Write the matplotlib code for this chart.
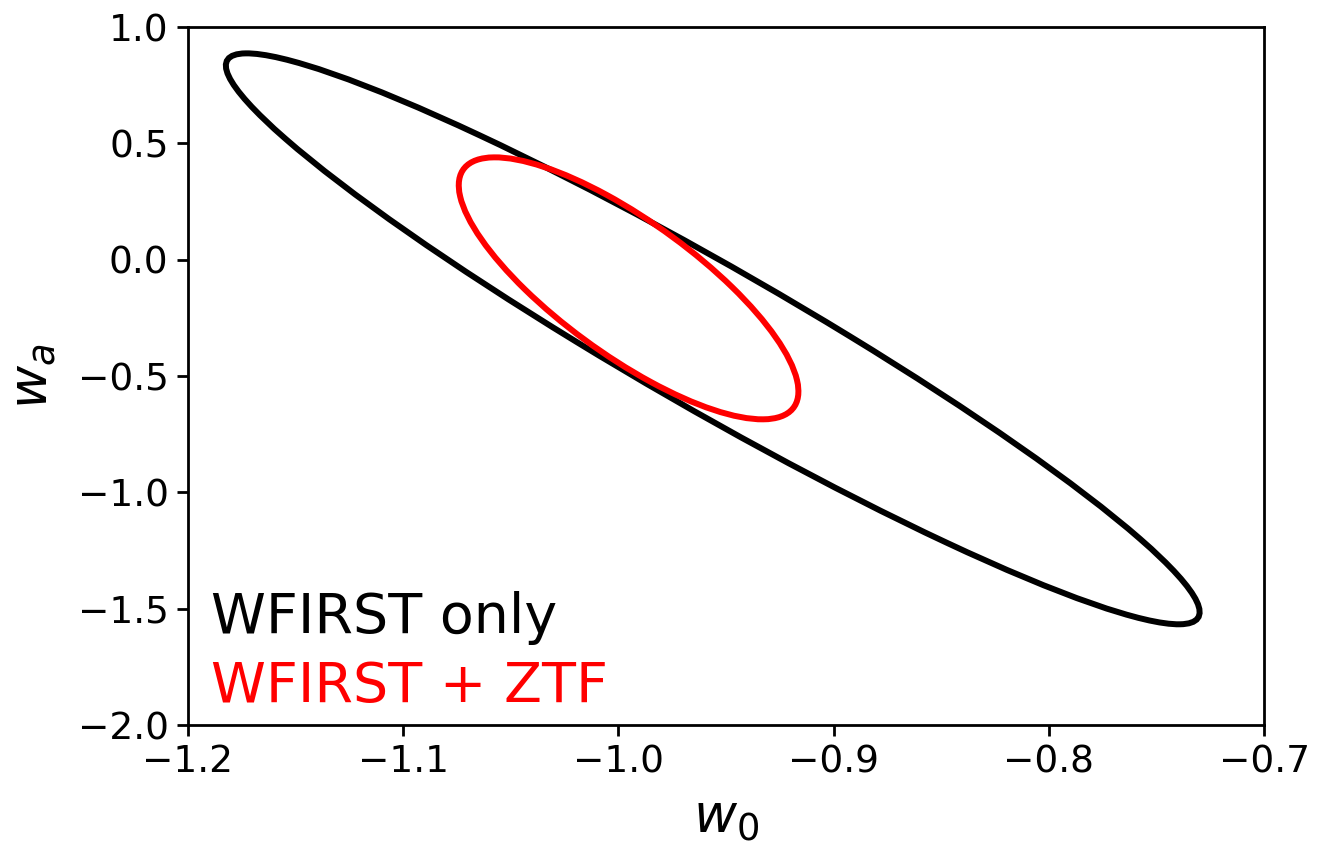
import numpy as np
import matplotlib
matplotlib.use("Agg")
import matplotlib.pyplot as plt
from matplotlib.patches import Ellipse

# Ellipse parameters: center (w0, wa), half-extents along w0 and wa, correlation
labels = ["WFIRST only", "WFIRST + ZTF"]
colors = ["black", "red"]
center_w0 = [-0.9562, -0.9953]
center_wa = [-0.34, -0.123]
halfext_w0 = [0.2262, 0.0789]
halfext_wa = [1.227, 0.563]
corr = [-0.957, -0.787]

xticks = [-1.2, -1.1, -1.0, -0.9, -0.8, -0.7]
yticks = [1.0, 0.5, 0.0, -0.5, -1.0, -1.5, -2.0]

fig = plt.figure(figsize=(13.21, 8.46), dpi=100)
ax = fig.add_axes([0.1423, 0.143, 0.8147, 0.825])

for cx, cy, sx, sy, r, c in zip(center_w0, center_wa, halfext_w0, halfext_wa, corr, colors):
    cov = np.array([[sx * sx, r * sx * sy], [r * sx * sy, sy * sy]])
    vals, vecs = np.linalg.eigh(cov)
    ang = np.degrees(np.arctan2(vecs[1, 1], vecs[0, 1]))
    e = Ellipse((cx, cy), 2 * np.sqrt(vals[1]), 2 * np.sqrt(vals[0]), angle=ang,
                fill=False, edgecolor=c, linewidth=4.3)
    ax.add_patch(e)

ax.set_xlim(-1.2, -0.7)
ax.set_ylim(-2.0, 1.0)
ax.set_xticks(xticks)
ax.set_yticks(yticks)
ax.set_xticklabels([f"{v:.1f}".replace("-", "\u2212") for v in xticks])
ax.set_yticklabels([f"{v:.1f}".replace("-", "\u2212") for v in yticks])
ax.tick_params(labelsize=27, length=8, width=2, pad=6)
for s in ax.spines.values():
    s.set_linewidth(2)

ax.set_xlabel(r"$w_0$", fontsize=38, labelpad=8)
ax.set_ylabel(r"$w_a$", fontsize=38, labelpad=14)

ax.text(0.021, 0.132, labels[0], transform=ax.transAxes, fontsize=40, color=colors[0])
ax.text(0.021, 0.033, labels[1], transform=ax.transAxes, fontsize=40, color=colors[1])

fig.savefig("out.png", dpi=100)
